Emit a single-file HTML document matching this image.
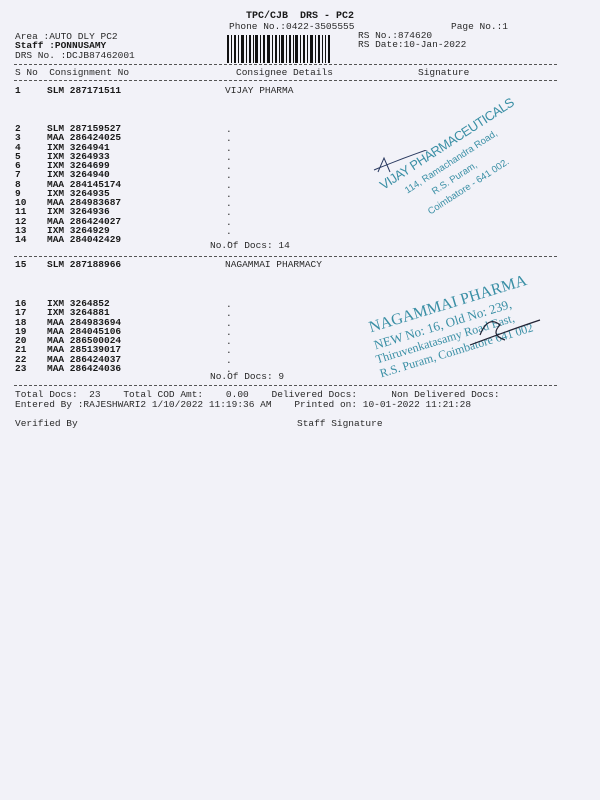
<!DOCTYPE html>
<html><head><meta charset="utf-8"><style>
html,body{margin:0;padding:0}
body{width:600px;height:800px;background:#f2f2f8;position:relative;overflow:hidden;font-family:"Liberation Mono",monospace;font-size:9.5px;color:#2a2a2a}
.t{position:absolute;white-space:pre;line-height:10px}
.b{font-weight:bold;color:#1a1a1a}
.d{position:absolute;left:14px;width:543px;height:0;border-top:1px dashed #555}
.st{position:absolute;color:#3a8fa5;font-family:"Liberation Sans",sans-serif;white-space:pre;transform-origin:0 0}
</style></head><body>
<div class="t b" style="left:246px;top:12px;font-size:10px">TPC/CJB  DRS - PC2</div>
<div class="t" style="left:229px;top:22px">Phone No.:0422-3505555</div>
<div class="t" style="left:451px;top:22px">Page No.:1</div>
<div class="t" style="left:15px;top:32px">Area :AUTO DLY PC2</div>
<div class="t b" style="left:15px;top:41px">Staff :PONNUSAMY</div>
<div class="t" style="left:15px;top:51px">DRS No. :DCJB87462001</div>
<div class="t" style="left:358px;top:31px">RS No.:874620</div>
<div class="t" style="left:358px;top:40px">RS Date:10-Jan-2022</div>
<svg style="position:absolute;left:227px;top:35px" width="104" height="28">
<g fill="#111">
<rect x="0" y="0" width="2" height="28"/><rect x="4" y="0" width="1" height="28"/><rect x="7" y="0" width="2" height="28"/><rect x="11" y="0" width="1" height="28"/><rect x="14" y="0" width="3" height="28"/><rect x="19" y="0" width="1" height="28"/><rect x="22" y="0" width="2" height="28"/><rect x="26" y="0" width="1" height="28"/><rect x="28" y="0" width="3" height="28"/><rect x="33" y="0" width="1" height="28"/><rect x="36" y="0" width="2" height="28"/><rect x="40" y="0" width="3" height="28"/><rect x="45" y="0" width="1" height="28"/><rect x="48" y="0" width="2" height="28"/><rect x="52" y="0" width="1" height="28"/><rect x="54" y="0" width="3" height="28"/><rect x="59" y="0" width="1" height="28"/><rect x="62" y="0" width="2" height="28"/><rect x="66" y="0" width="1" height="28"/><rect x="68" y="0" width="3" height="28"/><rect x="73" y="0" width="1" height="28"/><rect x="76" y="0" width="2" height="28"/><rect x="80" y="0" width="1" height="28"/><rect x="83" y="0" width="3" height="28"/><rect x="88" y="0" width="1" height="28"/><rect x="91" y="0" width="2" height="28"/><rect x="95" y="0" width="1" height="28"/><rect x="98" y="0" width="1" height="28"/><rect x="101" y="0" width="2" height="28"/>
</g></svg>
<div class="d" style="top:64px"></div>
<div class="t" style="left:15px;top:68px">S No  Consignment No</div>
<div class="t" style="left:236px;top:68px">Consignee Details</div>
<div class="t" style="left:418px;top:68px">Signature</div>
<div class="d" style="top:80px"></div>
<div class="t b" style="left:15px;top:86px">1</div>
<div class="t b" style="left:47px;top:86px">SLM 287171511</div>
<div class="t" style="left:225px;top:86px">VIJAY PHARMA</div>

<div class="t b" style="left:15px;top:124px;line-height:9.25px">2
3
4
5
6
7
8
9
10
11
12
13
14</div>
<div class="t b" style="left:47px;top:124px;line-height:9.25px">SLM 287159527
MAA 286424025
IXM 3264941
IXM 3264933
IXM 3264699
IXM 3264940
MAA 284145174
IXM 3264935
MAA 284983687
IXM 3264936
MAA 286424027
IXM 3264929
MAA 284042429</div>
<div class="t" style="left:226px;top:125px;line-height:9.25px">.
.
.
.
.
.
.
.
.
.
.
.
.</div>
<div class="t" style="left:210px;top:241px">No.Of Docs: 14</div>
<div class="d" style="top:256px"></div>
<div class="t b" style="left:15px;top:260px">15</div>
<div class="t b" style="left:47px;top:260px">SLM 287188966</div>
<div class="t" style="left:225px;top:260px">NAGAMMAI PHARMACY</div>

<div class="t b" style="left:15px;top:299px;line-height:9.3px">16
17
18
19
20
21
22
23</div>
<div class="t b" style="left:47px;top:299px;line-height:9.3px">IXM 3264852
IXM 3264881
MAA 284983694
MAA 284045106
MAA 286500024
MAA 285139017
MAA 286424037
MAA 286424036</div>
<div class="t" style="left:226px;top:300px;line-height:9.3px">.
.
.
.
.
.
.
.</div>
<div class="t" style="left:210px;top:372px">No.Of Docs: 9</div>
<div class="d" style="top:385px"></div>
<div class="t" style="left:15px;top:390px">Total Docs:  23    Total COD Amt:    0.00    Delivered Docs:      Non Delivered Docs:</div>
<div class="t" style="left:15px;top:400px">Entered By :RAJESHWARI2 1/10/2022 11:19:36 AM    Printed on: 10-01-2022 11:21:28</div>
<div class="t" style="left:15px;top:419px">Verified By</div>
<div class="t" style="left:297px;top:419px">Staff Signature</div>

<div class="st" style="left:377px;top:180px;transform:rotate(-33deg);font-size:13px;letter-spacing:-0.5px">VIJAY PHARMACEUTICALS</div>
<div class="st" style="left:403px;top:187px;transform:rotate(-33deg);font-size:9.5px">114, Ramachandra Road,</div>
<div class="st" style="left:430px;top:188px;transform:rotate(-33deg);font-size:9.5px">R.S. Puram,</div>
<div class="st" style="left:426px;top:208px;transform:rotate(-33deg);font-size:9.5px">Coimbatore - 641 002.</div>

<div class="st" style="left:367px;top:320px;transform:rotate(-17deg);font-size:16px;font-family:'Liberation Serif',serif">NAGAMMAI PHARMA</div>
<div class="st" style="left:372px;top:338px;transform:rotate(-17deg);font-size:13px;font-family:'Liberation Serif',serif">NEW No: 16, Old No: 239,</div>
<div class="st" style="left:374px;top:353px;transform:rotate(-17deg);font-size:12px;font-family:'Liberation Serif',serif">Thiruvenkatasamy Road East,</div>
<div class="st" style="left:378px;top:367px;transform:rotate(-17deg);font-size:12px;font-family:'Liberation Serif',serif">R.S. Puram, Coimbatore 641 002</div>
<svg style="position:absolute;left:370px;top:150px" width="180" height="210">
<path d="M8 22 L14 8 L20 22 M4 20 Q40 5 80 -8" stroke="#2a3a60" fill="none" stroke-width="1"/>
<path d="M100 195 Q140 180 170 170 M110 185 q8 -20 20 -10 q-10 10 5 15" stroke="#223" fill="none" stroke-width="1.2"/>
</svg>
</body></html>
